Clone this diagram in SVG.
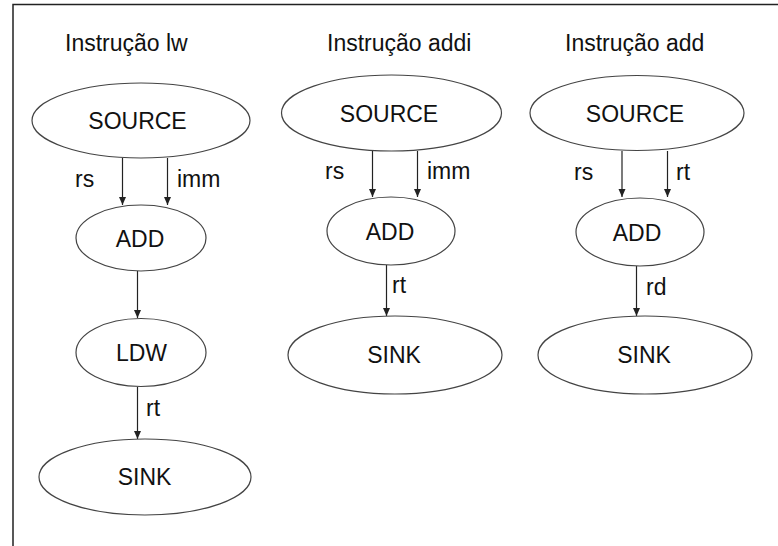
<svg xmlns="http://www.w3.org/2000/svg" width="778" height="546" viewBox="0 0 778 546">
<defs>
<marker id="ah" markerWidth="10" markerHeight="10" refX="9" refY="5" orient="auto" markerUnits="userSpaceOnUse">
<path d="M1,1.5 L9,5 L1,8.5 Z" fill="#222"/>
</marker>
<style>
text{font-family:"Liberation Sans",Arial,sans-serif;font-size:23px;fill:#111}
.c{text-anchor:middle}
ellipse{fill:#fff;stroke:#444;stroke-width:1.2}
.e{stroke:#222;stroke-width:1.2;fill:none;marker-end:url(#ah)}
.f{stroke:#222;stroke-width:1.5;fill:none}
</style>
</defs>
<rect width="778" height="546" fill="#fff"/>
<path class="f" d="M13,546 V4.5 H778"/>
<g id="titles">
<text x="65" y="51">Instrução lw</text>
<text x="327" y="51">Instrução addi</text>
<text x="565" y="51">Instrução add</text>
</g>
<g id="connectors">
<line class="e" x1="122.5" y1="158" x2="122.5" y2="205"/>
<line class="e" x1="167.5" y1="158" x2="167.5" y2="205"/>
<line class="e" x1="137.5" y1="271" x2="137.5" y2="318"/>
<line class="e" x1="137.5" y1="387" x2="137.5" y2="439"/>
<line class="e" x1="372.5" y1="151" x2="372.5" y2="197"/>
<line class="e" x1="417.5" y1="151" x2="417.5" y2="197"/>
<line class="e" x1="386.5" y1="265" x2="386.5" y2="316"/>
<line class="e" x1="622" y1="151" x2="622" y2="197"/>
<line class="e" x1="667.5" y1="151" x2="667.5" y2="197"/>
<line class="e" x1="636.5" y1="266" x2="636.5" y2="316"/>
<text x="75" y="187">rs</text>
<text x="177" y="187">imm</text>
<text x="146" y="416">rt</text>
<text x="325" y="179">rs</text>
<text x="427" y="179">imm</text>
<text x="392" y="293">rt</text>
<text x="574" y="180">rs</text>
<text x="676" y="180">rt</text>
<text x="646" y="295">rd</text>
</g>
<g id="lw_source"><ellipse cx="141" cy="120.5" rx="109" ry="37.5"/><text class="c" x="137.5" y="129">SOURCE</text></g>
<g id="lw_add"><ellipse cx="141" cy="238" rx="65" ry="33"/><text class="c" x="140" y="246.5">ADD</text></g>
<g id="lw_ldw"><ellipse cx="141" cy="352.5" rx="65" ry="34"/><text class="c" x="141.5" y="361">LDW</text></g>
<g id="lw_sink"><ellipse cx="145" cy="477" rx="106" ry="38"/><text class="c" x="144.5" y="485">SINK</text></g>
<g id="addi_source"><ellipse cx="391.5" cy="113" rx="110" ry="38"/><text class="c" x="389" y="122">SOURCE</text></g>
<g id="addi_add"><ellipse cx="391" cy="231" rx="64" ry="34"/><text class="c" x="390" y="240">ADD</text></g>
<g id="addi_sink"><ellipse cx="395" cy="355" rx="107" ry="39"/><text class="c" x="394" y="363">SINK</text></g>
<g id="add_source"><ellipse cx="637" cy="113" rx="107" ry="37.5"/><text class="c" x="635" y="122">SOURCE</text></g>
<g id="add_add"><ellipse cx="640" cy="232" rx="64" ry="34"/><text class="c" x="637" y="241">ADD</text></g>
<g id="add_sink"><ellipse cx="645" cy="355" rx="107" ry="39"/><text class="c" x="644" y="363">SINK</text></g>
</svg>
